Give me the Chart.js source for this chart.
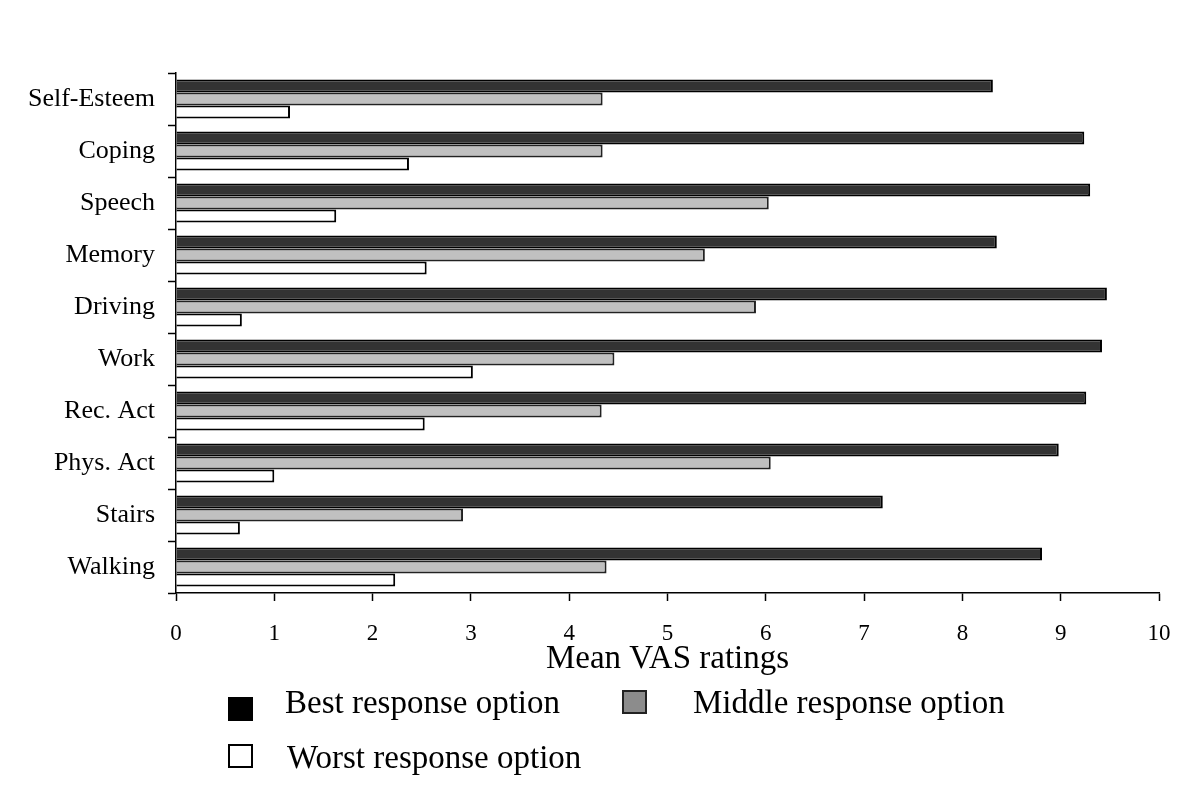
<!DOCTYPE html>
<html>
<head>
<meta charset="utf-8">
<script src="https://cdn.jsdelivr.net/npm/chart.js@4/dist/chart.umd.min.js"></script>
<style>
  body { margin: 0; background: #fff; }
  #wrap { position: relative; width: 1200px; height: 799px; }
  #legend { position: absolute; left: 0; top: 0; width: 1200px; height: 799px; pointer-events: none;
    font-family: "Liberation Serif", "Times New Roman", serif; font-size: 33px; color: #000; }
  .box { position: absolute; width: 25px; height: 24px; box-sizing: border-box; border: 2px solid #000; }
  .txt { position: absolute; line-height: 38px; white-space: nowrap; }
</style>
</head>
<body>
<div id="wrap">
  <canvas id="vasChart" width="1200" height="799"></canvas>
  <div id="legend"></div>
</div>
<script>
// categories listed top to bottom as in the picture
var categories = ["Self-Esteem", "Coping", "Speech", "Memory", "Driving", "Work", "Rec. Act", "Phys. Act", "Stairs", "Walking"];
var bestValues = [8.31, 9.24, 9.30, 8.35, 9.47, 9.42, 9.26, 8.98, 7.19, 8.81];
var middleValues = [4.34, 4.34, 6.03, 5.38, 5.90, 4.46, 4.33, 6.05, 2.92, 4.38];
var worstValues = [1.16, 2.37, 1.63, 2.55, 0.67, 3.02, 2.53, 1.00, 0.65, 2.23];
var xTicks = [0, 1, 2, 3, 4, 5, 6, 7, 8, 9, 10];

var serif = "'Liberation Serif', 'Times New Roman', serif";

var ctx = document.getElementById("vasChart").getContext("2d");
var vasChart = new Chart(ctx, {
  type: "bar",
  data: {
    labels: categories,
    datasets: [
      { label: "Best response option", data: bestValues, backgroundColor: "#333333", borderColor: "#000", borderWidth: 2, legendColor: "#000000", legendBorder: "#000" },
      { label: "Middle response option", data: middleValues, backgroundColor: "#c0c0c0", borderColor: "#222", borderWidth: 2, legendColor: "#8c8c8c", legendBorder: "#222" },
      { label: "Worst response option", data: worstValues, backgroundColor: "#ffffff", borderColor: "#000", borderWidth: 2, legendColor: "#ffffff", legendBorder: "#000" },
    ],
  },
  options: {
    indexAxis: "y",
    responsive: false,
    animation: false,
    categoryPercentage: 0.75,
    barPercentage: 1.0,
    layout: { padding: { left: 0, right: 41, top: 73, bottom: 120 } },
    plugins: { legend: { display: false }, tooltip: { enabled: false } },
    scales: {
      x: {
        min: 0,
        max: 10,
        afterBuildTicks: function (scale) {
          scale.ticks = xTicks.map(function (v) { return { value: v }; });
        },
        afterFit: function (scale) { scale.height = 86; },
        grid: { drawOnChartArea: false, drawTicks: true, tickLength: 8, tickColor: "#000", tickWidth: 1.5 },
        border: { color: "#000", width: 1.5 },
        ticks: { color: "#000", padding: 19, font: { family: serif, size: 23 } },
        title: { display: true, text: "Mean VAS ratings", color: "#000", padding: { top: 0, bottom: 0 }, font: { family: serif, size: 33 } },
      },
      y: {
        afterFit: function (scale) { scale.width = 176; },
        grid: { drawOnChartArea: false, drawTicks: true, tickLength: 8, tickColor: "#000", tickWidth: 1.5 },
        border: { color: "#000", width: 1.5 },
        ticks: { color: "#000", padding: 13, font: { family: serif, size: 26 } },
      },
    },
  },
});

// legend built from the datasets
var legendPos = [
  { boxLeft: 228, boxTop: 697, textLeft: 285, textTop: 683 },
  { boxLeft: 622, boxTop: 690, textLeft: 693, textTop: 683 },
  { boxLeft: 228, boxTop: 744, textLeft: 287, textTop: 738 },
];
var legend = document.getElementById("legend");
vasChart.data.datasets.forEach(function (ds, i) {
  var p = legendPos[i];
  var box = document.createElement("div");
  box.className = "box";
  box.style.left = p.boxLeft + "px";
  box.style.top = p.boxTop + "px";
  box.style.background = ds.legendColor;
  box.style.borderColor = ds.legendBorder;
  var txt = document.createElement("div");
  txt.className = "txt";
  txt.style.left = p.textLeft + "px";
  txt.style.top = p.textTop + "px";
  txt.textContent = ds.label;
  legend.appendChild(box);
  legend.appendChild(txt);
});
</script>
</body>
</html>
